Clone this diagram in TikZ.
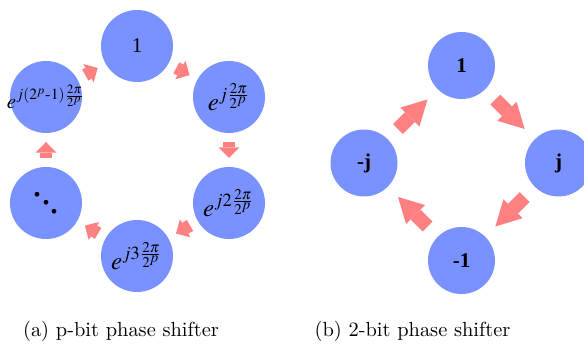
\documentclass[tikz,border=0pt]{standalone}
\usepackage{amsmath}
\usepackage[no-math]{fontspec}
\usepackage{mathptmx}
\renewcommand{\rmdefault}{lmr}
\newfontfamily\tnr{Liberation Serif}
\usetikzlibrary{arrows.meta}
\definecolor{cblue}{RGB}{122,146,255}
\definecolor{cred}{RGB}{255,128,128}
\newcommand{\dddots}{{\tnr\fontsize{20}{20}\selectfont\raisebox{8.7pt}{.}\kern-0.65pt\raisebox{4.35pt}{.}\kern-0.65pt.}}
\begin{document}
\begin{tikzpicture}[x=0.5pt,y=-0.5pt,
  bigc/.style={circle,fill=cblue,inner sep=0pt,outer sep=0pt,minimum size=36pt},
  smc/.style={circle,fill=cblue,inner sep=0pt,outer sep=0pt,minimum size=33.5pt,font=\tnr\bfseries\fontsize{10.5}{12}\selectfont},
  mlabel/.style={inner sep=0pt,font=\fontsize{12.5}{14}\selectfont},
  sarr/.style={draw=cred,line width=6.3pt,shorten <=4.5pt,shorten >=4.5pt,-{Triangle[length=5.3pt,width=10.5pt,line width=0pt]}},
  barr/.style={draw=cred,line width=7pt,shorten <=7.25pt,shorten >=7.25pt,-{Triangle[length=12.5pt,width=13.5pt,line width=0pt]}},
  captext/.style={anchor=base,font=\rmfamily\fontsize{10.2}{12}\selectfont}]
 \useasboundingbox (0,0) rectangle (584,351);
 % left panel
 \node[bigc] (p0) at (137,46) {\tnr\fontsize{10.5}{12}\selectfont 1};
 \node[bigc] (p1) at (229,97) {};
 \node[bigc] (p2) at (229,203) {};
 \node[bigc] (p3) at (137,256) {};
 \node[bigc] (p4) at (46,203) {};
 \node[bigc] (p5) at (46,97) {};
 \node[mlabel] (t1) at (p1) {$e^{j\frac{2\pi}{2^p}}$};
 \node[mlabel] (t2) at (p2) {$e^{j2\frac{2\pi}{2^p}}$};
 \node[mlabel] (t3) at (p3) {$e^{j3\frac{2\pi}{2^p}}$};
 \node[inner sep=0pt] (t4) at (p4) {\dddots};
 \node[mlabel,font=\fontsize{10.5}{12}\selectfont] (t5) at (p5) {$e^{j(2^p\text{-}1)\frac{2\pi}{2^p}}$};
 \draw[sarr] (p0) -- (p1);
 \draw[sarr] (p1) -- (p2);
 \draw[sarr] (p2) -- (p3);
 \draw[sarr] (p3) -- (p4);
 \draw[sarr] (p4) -- (p5);
 \draw[sarr] (p5) -- (p0);
 % right panel
 \node[smc] (q0) at (461.5,65.5) {1};
 \node[smc] (q1) at (558.5,163) {j};
 \node[smc] (q2) at (461.5,260.5) {-1};
 \node[smc] (q3) at (364,163) {-j};
 \draw[barr] (q0) -- (q1);
 \draw[barr] (q1) -- (q2);
 \draw[barr] (q2) -- (q3);
 \draw[barr] (q3) -- (q0);
 % captions
 \node[captext] (ca) at (121,337) {(a) p-bit phase shifter};
 \node[captext] (cb) at (412.5,337) {(b) 2-bit phase shifter};
\end{tikzpicture}
\end{document}
